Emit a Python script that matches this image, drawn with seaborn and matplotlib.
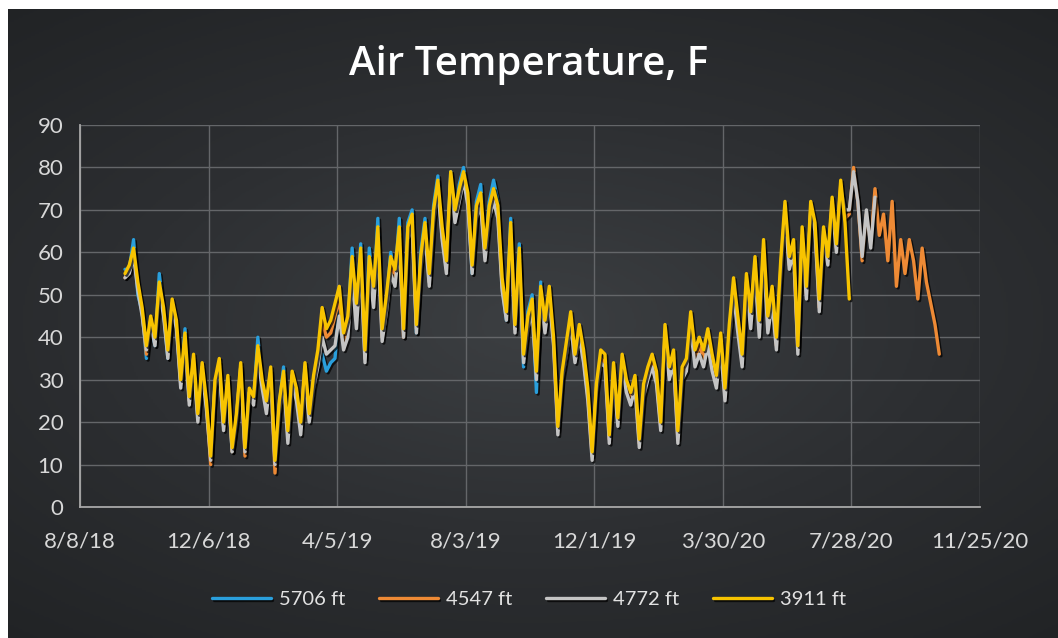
import matplotlib
matplotlib.use("Agg")
import matplotlib.pyplot as plt
import matplotlib.patheffects as pe
from matplotlib.colors import LinearSegmentedColormap
from matplotlib.ticker import FuncFormatter, MultipleLocator
import seaborn as sns
import numpy as np
import pandas as pd

sns.set_style("dark")
plt.rcParams['font.family'] = ['Lato', 'DejaVu Sans']

# readings every 4 days starting 9/19/18
start_date = "2018-09-19"

ft_5706 = [56, 56, 63, 50, 46, 35, 44, 38, 55, 46, 35, 48, 43, 29, 42, 25, 35, 21, 33, 24,
           12, 29, 34, 19, 30, 13, 21, 33, 14, 27, 25, 40, 29, 24, 32, 10, 24, 33, 17, 31,
           27, 19, 33, 21, 30, 33, 36, 32, 34, 35, 48, 38, 43, 61, 45, 62, 35, 61, 50, 68,
           40, 48, 60, 54, 68, 41, 67, 70, 41, 60, 68, 53, 71, 78, 64, 56, 79, 68, 76, 80,
           73, 55, 72, 76, 60, 72, 77, 72, 52, 44, 68, 42, 62, 33, 46, 50, 27, 53]

ft_4547 = [54, 56, 60, 52, 46, 36, 44, 39, 52, 46, 36, 48, 43, 29, 40, 25, 35, 21, 33, 24,
           10, 29, 34, 19, 30, 13, 21, 33, 12, 27, 25, 37, 29, 24, 32, 8, 24, 31, 17, 31,
           27, 19, 33, 21, 30, 35, 44, 40, 41, 45, 49, 39, 43, 57, 45, 59, 35, 57, 49, 64,
           40, 48, 57, 54, 64, 40, 64, 67, 42, 57, 65, 53, 68, 76, 64, 56, 78, 68, 73, 78,
           72, 56, 69, 72, 59, 69, 73, 69, 52, 45, 65, 42, 59, 35, 43, 47, 31, 50, 42, 50,
           39, 18, 31, 37, 44, 35, 41, 35, 26, 12, 28, 35, 34, 16, 32, 20, 34, 28, 25, 29,
           15, 27, 31, 34, 30, 19, 41, 31, 35, 16, 31, 33, 44, 35, 38, 35, 40, 34, 29, 39,
           26, 41, 52, 43, 34, 53, 44, 57, 42, 61, 43, 50, 38, 56, 70, 57, 61, 37, 64, 50,
           70, 66, 47, 65, 58, 72, 61, 76, 68, 69, 80, 72, 58, 69, 62, 75, 64, 69, 58, 72,
           52, 63, 55, 63, 58, 49, 61, 53, 48, 43, 36]

ft_4772 = [54, 55, 59, 51, 45, 37, 43, 38, 51, 45, 35, 47, 42, 28, 39, 24, 34, 20, 32, 23,
           11, 28, 33, 18, 29, 13, 20, 32, 13, 26, 24, 35, 28, 22, 31, 10, 22, 30, 15, 29,
           25, 17, 30, 20, 28, 33, 40, 36, 37, 38, 45, 37, 40, 54, 42, 57, 34, 55, 47, 62,
           39, 46, 55, 52, 62, 40, 63, 66, 41, 56, 64, 52, 67, 75, 63, 55, 77, 67, 72, 77,
           71, 55, 68, 71, 58, 68, 72, 68, 51, 44, 64, 41, 58, 34, 42, 46, 30, 49, 41, 49,
           38, 17, 30, 36, 43, 34, 40, 34, 25, 11, 27, 34, 33, 15, 31, 19, 33, 27, 24, 28,
           14, 26, 30, 33, 29, 18, 40, 30, 34, 15, 30, 32, 42, 33, 36, 33, 38, 32, 28, 37,
           25, 39, 50, 41, 33, 51, 42, 55, 40, 59, 41, 48, 37, 54, 69, 56, 60, 36, 63, 49,
           70, 65, 46, 64, 57, 71, 60, 75, 70, 70, 79, 72, 59, 70, 61, 73]

ft_3911 = [55, 57, 61, 53, 47, 38, 45, 40, 53, 47, 37, 49, 44, 30, 41, 26, 36, 22, 34, 25,
           12, 30, 35, 20, 31, 14, 22, 34, 14, 28, 26, 38, 30, 25, 33, 11, 25, 32, 18, 32,
           28, 20, 34, 22, 31, 37, 47, 42, 44, 48, 52, 41, 45, 59, 48, 61, 37, 59, 52, 66,
           42, 50, 59, 56, 66, 42, 66, 69, 43, 59, 67, 55, 70, 77, 66, 58, 79, 70, 75, 79,
           74, 57, 71, 74, 61, 71, 75, 71, 54, 46, 67, 43, 61, 36, 45, 49, 32, 52, 44, 52,
           40, 19, 32, 39, 46, 36, 43, 37, 28, 13, 29, 37, 36, 17, 34, 21, 36, 30, 27, 31,
           16, 29, 33, 36, 32, 20, 43, 33, 37, 18, 33, 35, 46, 37, 40, 37, 42, 36, 31, 41,
           28, 43, 54, 45, 36, 55, 46, 59, 44, 63, 45, 52, 40, 58, 72, 59, 63, 38, 66, 52,
           72, 67, 49, 66, 59, 73, 62, 77, 67, 49]

stations = ["5706 ft", "4547 ft", "4772 ft", "3911 ft"]
series = [ft_5706, ft_4547, ft_4772, ft_3911]
colors = ["#2a9fdc", "#ee8a35", "#c4c4c4", "#f7c300"]

frames = []
for name, vals in zip(stations, series):
    frames.append(pd.DataFrame({
        "date": pd.date_range(start_date, periods=len(vals), freq="4D"),
        "temp": vals,
        "station": name,
    }))
df = pd.concat(frames, ignore_index=True)

x_ticks = pd.date_range("2018-08-08", periods=8, freq="120D")

fig = plt.figure(figsize=(10.58, 6.38), dpi=100, facecolor="white")

# dark vignette background like the Excel chart style
bg = fig.add_axes([8 / 1058, 0, 1 - 8 / 1058, 1 - 9 / 638])
yy, xx = np.mgrid[-1:1:300j, -1:1:500j]
r = np.sqrt(0.75 * xx ** 2 + yy ** 2)
bg_cmap = LinearSegmentedColormap.from_list("bg", ["#3c3f42", "#2d2f32", "#212325"])
bg.imshow(r, cmap=bg_cmap, aspect="auto", extent=[0, 1, 0, 1], vmin=0, vmax=1.35)
bg.axis("off")

ax = fig.add_axes([80 / 1058, 131 / 638, 900 / 1058, 382 / 638])
ax.patch.set_alpha(0)

sns.lineplot(data=df, x="date", y="temp", hue="station", hue_order=stations,
             palette=colors, linewidth=2.4, estimator=None, ax=ax)

for line in ax.lines:
    line.set_path_effects([pe.SimpleLineShadow(offset=(1.2, -1.2), shadow_color="black", alpha=0.7),
                           pe.Normal()])

ax.set_xlim(x_ticks[0], x_ticks[-1])
ax.set_ylim(0, 90)
ax.set_xticks(x_ticks)
ax.xaxis.set_major_formatter(FuncFormatter(
    lambda v, p: (lambda d: f"{d.month}/{d.day}/{d.year % 100}")(matplotlib.dates.num2date(v))))
ax.yaxis.set_major_locator(MultipleLocator(10))
ax.set_xlabel("")
ax.set_ylabel("")

ax.grid(True, color="#646669", linewidth=1.0)
ax.tick_params(axis="both", length=0, labelsize=16, labelcolor="#d8d8d8")
ax.tick_params(axis="x", pad=18)
ax.tick_params(axis="y", pad=12)
for side in ["top", "right"]:
    ax.spines[side].set_visible(False)
for side in ["left", "bottom"]:
    ax.spines[side].set_visible(True)
    ax.spines[side].set_color("#a8a8a8")
    ax.spines[side].set_linewidth(1.3)

handles, labels = ax.get_legend_handles_labels()
ax.get_legend().remove()
fig.legend(handles, labels, loc="center", bbox_to_anchor=(0.5, 0.06), ncol=4,
           frameon=False, handlelength=2.9, handletextpad=0.4, columnspacing=1.7,
           fontsize=14.5, labelcolor="#e2e2e2")

fig.text(0.5, 1 - 65 / 638, "Air Temperature, F", ha="center", va="center",
         fontsize=29, fontweight="semibold", color="white", family=["Open Sans", "DejaVu Sans"])

fig.savefig("out.png", dpi=100, facecolor=fig.get_facecolor())
